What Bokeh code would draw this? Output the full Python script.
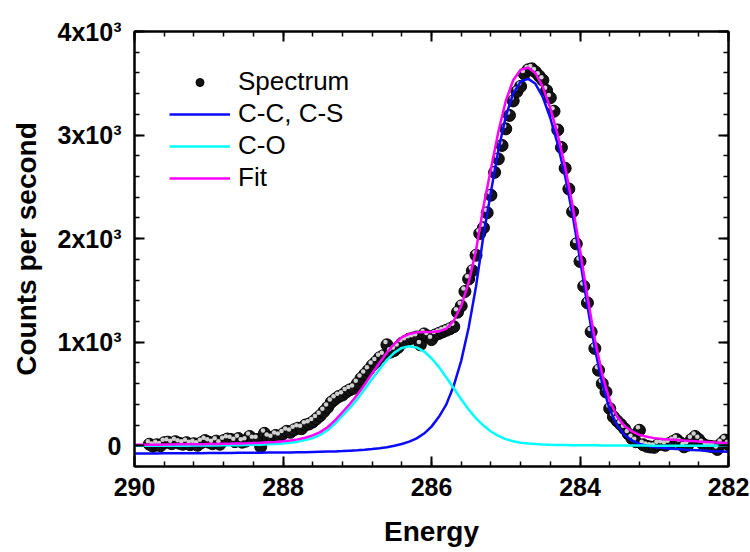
import numpy as np
from bokeh.plotting import figure
from bokeh.models import (Range1d, LinearAxis, SingleIntervalTicker, Legend,
                          LegendItem, ColumnDataSource, CustomLabelingPolicy)
from bokeh.transform import dodge
from bokeh.embed import file_html
from bokeh.resources import INLINE

# ---------------- data ----------------
# measured spectrum, energy grid 289.80 -> 282.00 eV in 0.05 eV steps
spec_energy = np.round(np.linspace(289.80, 282.00, 157), 2)
spec_counts = [
    15, -5, 10, 0, 30, 35, 20, 40, 25, 15,
    30, 10, 20, 5, 30, 50, 35, 20, 45, 15,
    50, 65, 60, 40, 70, 35, 45, 90, 60, 60,
    -10, 120, 80, 70, 100, 90, 115,
    140, 130, 155, 170, 165, 200, 210, 230, 260, 290,
    330, 370, 420, 450, 475, 490, 520, 540, 555, 600,
    650, 690, 730, 775, 810, 850, 870, 975, 905, 920,
    950, 990, 1010, 1030, 1040, 1050, 975, 1080, 1060, 1025,
    1070, 1085, 1100, 1115, 1130, 1150,
    1290, 1350, 1490, 1610, 1690, 1840, 2050, 2105, 2250, 2420,
    2640, 2770, 2900, 3060, 3190, 3330, 3420, 3470, 3590, 3630,
    3640, 3610, 3570, 3530, 3430, 3360, 3230, 3050, 2880, 2680,
    2480, 2260, 1950, 1780, 1540, 1380, 1100, 940, 730, 600,
    520, 360, 280, 240, 205, 165, 115, 70, 40, 150,
    10, -5, -12, -15,
    10, 15, 5, 20, 40, 60, 30, -10, 5, 60,
    90, 60, 20, 0, -5, -10, -35, 20, 55, 10,
]

# fitted components, energy grid 290.0 -> 282.0 eV in 0.1 eV steps
fit_energy = np.round(np.linspace(290.0, 282.0, 81), 1)
cc_cs = [
    -75, -75, -74, -74, -73, -73, -72, -72, -71, -71,
    -70, -70, -69, -69, -68, -68, -67, -67, -66, -66,
    -65, -64, -63, -62, -60, -58, -56, -54, -51, -47,
    -43, -38, -32, -24, -14, 0, 17, 40, 72, 118,
    185, 280, 400, 580, 820, 1140, 1540, 2030, 2450, 2850,
    3180, 3400, 3515, 3545, 3495, 3365, 3165, 2910, 2600, 2230,
    1800, 1350, 940, 600, 350, 195, 105, 52, 18, 0,
    -12, -20, -26, -31, -36, -40, -44, -48, -52, -55,
    -58,
]
c_o = [
    0, 0, 0, 0, 1, 1, 1, 1, 2, 2,
    3, 3, 4, 5, 6, 7, 9, 11, 14, 18,
    23, 30, 40, 55, 75, 105, 150, 215, 290, 365,
    450, 545, 645, 740, 830, 900, 945, 962, 950, 910,
    845, 760, 660, 555, 450, 350, 265, 195, 138, 95,
    64, 44, 30, 22, 17, 13, 10, 8, 7, 6,
    5, 4, 4, 3, 3, 3, 2, 2, 2, 2,
    1, 1, 1, 1, 1, 1, 0, 0, 0, 0,
    0,
]
fit = [
    10, 10, 11, 11, 13, 13, 14, 14, 16, 16,
    18, 18, 20, 21, 23, 24, 27, 29, 33, 37,
    43, 51, 62, 78, 100, 132, 179, 246, 324, 403,
    492, 592, 698, 801, 901, 985, 1047, 1080, 1095, 1098,
    1098, 1105, 1130, 1210, 1350, 1575, 1890, 2310, 2673, 3030,
    3329, 3529, 3630, 3652, 3597, 3463, 3260, 3003, 2692, 2321,
    1890, 1439, 1029, 688, 438, 283, 192, 139, 105, 87,
    74, 66, 60, 55, 50, 46, 41, 37, 33, 30,
    27,
]

y_tick_labels = {0: "0", 1000: "1x10\u00b3", 2000: "2x10\u00b3",
                 3000: "3x10\u00b3", 4000: "4x10\u00b3"}

# ---------------- figure ----------------
FONT = "Liberation Sans"

p = figure(width=750, height=552, output_backend="svg", toolbar_location=None,
           x_range=Range1d(290, 282), y_range=Range1d(-200, 4000),
           min_border_left=134, min_border_right=22,
           min_border_top=31, min_border_bottom=86)
p.xgrid.visible = False
p.ygrid.visible = False
p.outline_line_color = "black"
p.outline_line_width = 2
p.background_fill_color = "white"
p.border_fill_color = "white"

no_labels = CustomLabelingPolicy(code="""
    for (const i of Array.from(indices)) { indices.unset(i) }
    return indices
""")


def style_axis(ax, labels=True):
    ax.axis_line_width = 2
    ax.axis_line_color = "black"
    ax.major_tick_in = 10
    ax.major_tick_out = 0
    ax.minor_tick_in = 5
    ax.minor_tick_out = 0
    ax.major_tick_line_width = 2
    ax.minor_tick_line_width = 1.5
    ax.major_tick_line_color = "black"
    ax.minor_tick_line_color = "black"
    ax.major_label_text_font = FONT
    ax.major_label_text_font_style = "bold"
    ax.major_label_text_color = "black"
    ax.major_label_text_font_size = "25px"
    ax.axis_label_text_font = FONT
    ax.axis_label_text_font_style = "bold"
    ax.axis_label_text_font_size = "28px"
    ax.axis_label_text_color = "black"
    if not labels:
        ax.major_label_policy = no_labels
        ax.major_label_text_font_size = "0px"
        ax.major_label_standoff = 0


xt = SingleIntervalTicker(interval=2, num_minor_ticks=5)
yt = SingleIntervalTicker(interval=1000, num_minor_ticks=5)

xb = p.xaxis[0]
xb.ticker = xt
style_axis(xb)
xb.axis_label = "Energy"
xb.major_label_standoff = 11
xb.axis_label_standoff = 17

yl = p.yaxis[0]
yl.ticker = yt
style_axis(yl)
yl.axis_label = "Counts per second"
yl.major_label_overrides = y_tick_labels
yl.major_label_standoff = 13
yl.axis_label_standoff = 13

xtop = LinearAxis(ticker=SingleIntervalTicker(interval=2, num_minor_ticks=5))
style_axis(xtop, labels=False)
p.add_layout(xtop, "above")
yr = LinearAxis(ticker=SingleIntervalTicker(interval=1000, num_minor_ticks=5))
style_axis(yr, labels=False)
p.add_layout(yr, "right")

# ---------------- glyphs ----------------
spec_src = ColumnDataSource(dict(x=spec_energy, y=spec_counts))
r_sp = p.scatter("x", "y", source=spec_src, size=12, marker="circle",
                 fill_color="#141414", line_color="black", line_width=1)
r_hl = p.scatter(dodge("x", 0.02), dodge("y", 28), source=spec_src, size=4.5,
                 marker="circle", fill_color="#d0d0d0", line_color=None)

r_cc = p.line(fit_energy, cc_cs, line_color="#0a0aff", line_width=2.5)
r_co = p.line(fit_energy, c_o, line_color="#00ffff", line_width=2.5)
r_fit = p.line(fit_energy, fit, line_color="#ff00ff", line_width=2.5)

legend = Legend(items=[
    LegendItem(label="Spectrum", renderers=[r_sp]),
    LegendItem(label="C-C, C-S", renderers=[r_cc]),
    LegendItem(label="C-O", renderers=[r_co]),
    LegendItem(label="Fit", renderers=[r_fit]),
], location=(35, 273), glyph_width=61, glyph_height=20, label_standoff=8,
    label_text_font=FONT, label_text_font_size="26px", label_text_color="black",
    spacing=1, padding=0, margin=0, border_line_color=None,
    background_fill_alpha=0)
p.add_layout(legend)

open("out.html", "w").write(file_html(p, INLINE))
